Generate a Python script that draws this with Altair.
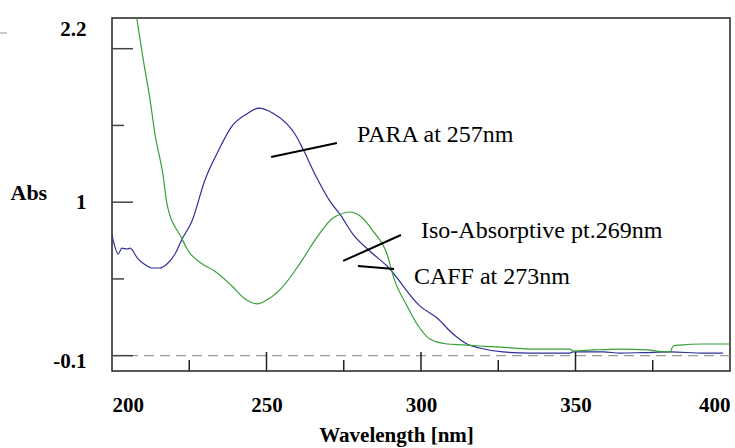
import altair as alt
import pandas as pd

# PARA (blue) spectrum
para_nm = [200, 200.6, 202, 203.2, 204.9, 205.8, 208.4, 210.5, 212.9, 215.5, 217.8, 220.4,
           222.7, 225.9, 230, 234.3, 239, 244, 247.5, 252.1, 256.6, 259.2, 261.8, 266.3,
           270.5, 273.8, 278, 283.5, 289, 299.7, 305.2, 310.4, 314.9, 319, 326.5,
           335.3, 341.7, 348.2, 349.2, 359, 364.4, 372, 380.6, 391.3, 397.7]
para_abs = [0.786, 0.734, 0.662, 0.70, 0.695, 0.70, 0.63, 0.595, 0.571, 0.571, 0.597, 0.662,
            0.76, 0.877, 1.14, 1.33, 1.50, 1.58, 1.613, 1.58, 1.51, 1.444, 1.346, 1.157,
            1.007, 0.92, 0.79, 0.68, 0.584, 0.323, 0.245, 0.141, 0.076, 0.050, 0.024,
            0.017, 0.017, 0.017, 0.024, 0.024, 0.017, 0.020, 0.024, 0.017, 0.017]

# CAFF (green) spectrum
caff_nm = [208.0, 210.1, 212.3, 213.9, 216.5, 217.8, 222.7, 224.3, 229, 233.3, 238.8, 243,
           247, 249.5, 254.4, 260.8, 266.3, 271.5, 273.8, 277, 280.3, 284.5, 289, 291.3,
           295.5, 298.7, 302.9, 308.4, 313.6, 319, 325.6, 335.3, 348.2, 349.2, 355.7, 364.4,
           373.1, 379.6, 380.6, 381.6, 383.8, 391.3, 400]
caff_abs = [2.2, 1.93, 1.67, 1.444, 1.18, 0.988, 0.76, 0.695, 0.60, 0.55, 0.454, 0.37,
            0.337, 0.356, 0.43, 0.60, 0.77, 0.897, 0.92, 0.936, 0.91, 0.812, 0.662, 0.5,
            0.323, 0.206, 0.108, 0.076, 0.07, 0.063, 0.056, 0.043, 0.043, 0.03, 0.037, 0.043,
            0.037, 0.024, 0.024, 0.063, 0.069, 0.076, 0.076]

series_names = ["PARA", "CAFF"]
series_colors = ["#2e2e9c", "#35a035"]

x_labels = [200, 250, 300, 350, 400]
y_labels = [-0.1, 1, 2.2]
x_major = [250, 300, 350]
x_minor = [225, 275, 325, 375]
y_major = [0, 1, 2]
y_minor = [0.5, 1.5]
baseline = [0]

ann_text = ["PARA at 257nm", "Iso-Absorptive pt.269nm", "CAFF at 273nm"]
ann_text_nm = [279.3, 300.0, 297.7]
ann_text_abs = [1.392, 0.766, 0.467]
ann_line_nm = [251.5, 274.8, 279.6]
ann_line_abs = [1.294, 0.617, 0.584]
ann_line_nm2 = [272.8, 293.5, 291.3]
ann_line_abs2 = [1.385, 0.786, 0.565]

FONT = "Liberation Serif"

curves = pd.concat([
    pd.DataFrame({"nm": para_nm, "abs": para_abs, "series": "PARA", "i": range(len(para_nm))}),
    pd.DataFrame({"nm": caff_nm, "abs": caff_abs, "series": "CAFF", "i": range(len(caff_nm))}),
])
ann_lines = pd.DataFrame({"nm": ann_line_nm, "abs": ann_line_abs, "nm2": ann_line_nm2, "abs2": ann_line_abs2})
ann_txt = pd.DataFrame({"nm": ann_text_nm, "abs": ann_text_abs, "t": ann_text})

xs = alt.Scale(domain=[200, 400], nice=False, zero=False)
ys = alt.Scale(domain=[-0.1, 2.2], nice=False, zero=False)

x_axis = alt.Axis(values=x_labels, ticks=False, tickSize=0, domain=False, grid=False,
                  labelFlush=True, labelFont=FONT, labelFontWeight="bold", labelFontSize=21,
                  labelColor="black", labelPadding=23,
                  title="Wavelength [nm]", titleFont=FONT, titleFontWeight="bold",
                  titleFontSize=21, titleColor="black", titlePadding=9, titleX=284)
y_axis = alt.Axis(values=y_labels, ticks=False, tickSize=0, domain=False, grid=False,
                  format=".1~f",
                  labelFlush=True, labelFont=FONT, labelFontWeight="bold", labelFontSize=21,
                  labelColor="black", labelPadding=26,
                  labelExpr="replace(datum.label, '\u2212', '-')",
                  title="Abs", titleFont=FONT, titleFontWeight="bold", titleFontSize=22,
                  titleColor="black", titleAngle=0, titleAlign="left", titleBaseline="middle",
                  titleX=-102, titleY=174)

X = lambda f: alt.X(f, scale=xs, axis=x_axis)
Y = lambda f: alt.Y(f, scale=ys, axis=y_axis)

zero_line = alt.Chart(pd.DataFrame({"v": baseline})).mark_rule(
    color="#9a9a9a", strokeDash=[10, 6], strokeWidth=1.2
).encode(y=Y("v:Q"))

lines = alt.Chart(curves).mark_line(strokeWidth=1.2, clip=True, interpolate="monotone").encode(
    x=X("nm:Q"),
    y=Y("abs:Q"),
    color=alt.Color("series:N", scale=alt.Scale(domain=series_names, range=series_colors), legend=None),
    order="i:Q",
)

ytick_major = alt.Chart(pd.DataFrame({"v": y_major})).mark_rule(color="#444", strokeWidth=1.5).encode(
    y=Y("v:Q"), x=alt.value(0), x2=alt.value(21))
ytick_minor = alt.Chart(pd.DataFrame({"v": y_minor})).mark_rule(color="#444", strokeWidth=1.5).encode(
    y=Y("v:Q"), x=alt.value(0), x2=alt.value(12))
xtick_major = alt.Chart(pd.DataFrame({"v": x_major})).mark_rule(color="#222", strokeWidth=1.5).encode(
    x=X("v:Q"), y=alt.value(353), y2=alt.value(334))
xtick_minor = alt.Chart(pd.DataFrame({"v": x_minor})).mark_rule(color="#222", strokeWidth=1.5).encode(
    x=X("v:Q"), y=alt.value(353), y2=alt.value(342))

pointers = alt.Chart(ann_lines).mark_rule(color="black", strokeWidth=2).encode(
    x=X("nm:Q"), y=Y("abs:Q"), x2="nm2:Q", y2="abs2:Q")

labels = alt.Chart(ann_txt).mark_text(
    align="left", baseline="alphabetic", font=FONT, fontSize=24, color="black"
).encode(x=X("nm:Q"), y=Y("abs:Q"), text="t:N")

corner = alt.Chart(pd.DataFrame({"v": baseline})).mark_rule(color="#bbbbbb", strokeWidth=1.5).encode(
    x=alt.value(-112), x2=alt.value(-105), y=alt.value(15))

chart = alt.layer(
    lines, zero_line, ytick_major, ytick_minor, xtick_major, xtick_minor, pointers, labels, corner
).properties(
    width=618, height=353,
    autosize=alt.AutoSizeParams(type="none"),
    padding={"left": 112, "top": 18, "right": 5, "bottom": 77},
    background="white",
).configure_view(stroke="#222", strokeWidth=1.5)

chart.save("out.html", embed_options={"renderer": "svg", "actions": False})
